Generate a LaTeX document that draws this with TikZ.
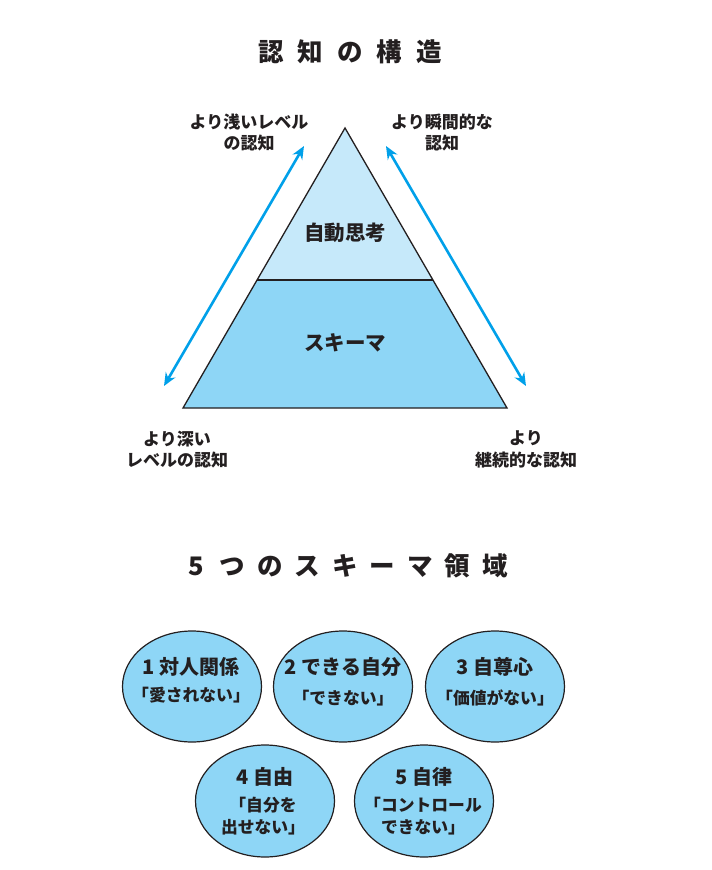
\documentclass[tikz,border=0pt]{standalone}
\usepackage{fontspec}
\setmainfont{Noto Sans CJK JP}
\usetikzlibrary{arrows.meta,shapes.geometric}
\definecolor{ink}{HTML}{231F20}
\definecolor{lightblue}{HTML}{C6E9FA}
\definecolor{midblue}{HTML}{8ED6F6}
\definecolor{arrowblue}{HTML}{00A0E9}
\begin{document}
\begin{tikzpicture}[x=1pt,y=-1pt,
  title/.style={font=\bfseries\fontsize{25.5}{28}\selectfont, text=ink, inner sep=0pt},
  lbl/.style={font=\bfseries\fontsize{17}{21.5}\selectfont, text=ink, align=center, inner sep=0pt},
  layer/.style={font=\bfseries\fontsize{20.5}{22}\selectfont, text=ink, inner sep=0pt},
  blob/.style={ellipse, draw=ink, line width=1.2pt, fill=midblue, minimum width=139pt, minimum height=111pt, inner sep=0pt},
  head/.style={font=\bfseries\fontsize{20}{22}\selectfont, text=ink, inner sep=0pt},
  sub/.style={font=\bfseries\fontsize{16.8}{22}\selectfont, text=ink, align=center, inner sep=0pt},
  arr/.style={draw=arrowblue, line width=2.6pt, {Stealth[length=13pt,width=11pt]}-{Stealth[length=13pt,width=11pt]}},
  edge/.style={draw=ink, line width=1.3pt, line join=miter}
]
\path[use as bounding box] (0,0) rectangle (712,870);

% Title
\node[title] (t1) at (350,52) {認\hspace{14pt}知\hspace{14pt}の\hspace{14pt}構\hspace{14pt}造};

% Pyramid
\coordinate (apex) at (345,128);
\coordinate (bl) at (183,408);
\coordinate (br) at (507,408);
\coordinate (ml) at (257.3,280);
\coordinate (mr) at (432.7,280);
\fill[lightblue] (apex) -- (ml) -- (mr) -- cycle;
\fill[midblue] (ml) -- (mr) -- (br) -- (bl) -- cycle;
\draw[edge] (ml) -- (mr);
\draw[edge] (apex) -- (bl) -- (br) -- cycle;
\node[layer] (auto) at (345,233) {自動思考};
\node[layer] (schema) at (345,343) {スキーマ};

% Arrows
\coordinate (la1) at (304,146);
\coordinate (la2) at (164,386);
\coordinate (ra1) at (386,146);
\coordinate (ra2) at (526,386);
\draw[arr] (la1) -- (la2);
\draw[arr] (ra1) -- (ra2);

% Labels
\node[lbl] (ltop) at (249,132.5) {より浅いレベル\\の認知};
\node[lbl] (rtop) at (442,132.5) {より瞬間的な\\認知};
\node[lbl] (lbot) at (177,449.5) {より深い\\レベルの認知};
\node[lbl] (rbot) at (526,449.5) {より\\継続的な認知};

% Second title
\node[title] (t2) at (348,566) {5\hspace{16pt}つ\hspace{12pt}の\hspace{12pt}ス\hspace{12pt}キ\hspace{12pt}ー\hspace{12pt}マ\hspace{12pt}領\hspace{12pt}域};

% Ellipses
\node[blob] (e1) at (192,686.5) {};
\node[blob] (e2) at (343,686.5) {};
\node[blob] (e3) at (495,686.5) {};
\node[blob, minimum height=112pt] (e4) at (265,801) {};
\node[blob, minimum height=112pt] (e5) at (424,801) {};

\node[head] (h1) at (191,667) {1\hspace{5pt}対人関係};
\node[sub]  (s1) at (191,695) {「愛されない」};
\node[head] (h2) at (343,667) {2\hspace{5pt}できる自分};
\node[sub]  (s2) at (343,698) {「できない」};
\node[head] (h3) at (495,667) {3\hspace{5pt}自尊心};
\node[sub]  (s3) at (495,698) {「価値がない」};
\node[head] (h4) at (265,777) {4\hspace{5pt}自由};
\node[sub]  (s4) at (263,816) {「自分を\hspace{0.9em}\\出せない」};
\node[head] (h5) at (424,777) {5\hspace{5pt}自律};
\node[sub]  (s5) at (423,816) {「コントロール\\できない」};
\end{tikzpicture}
\end{document}
